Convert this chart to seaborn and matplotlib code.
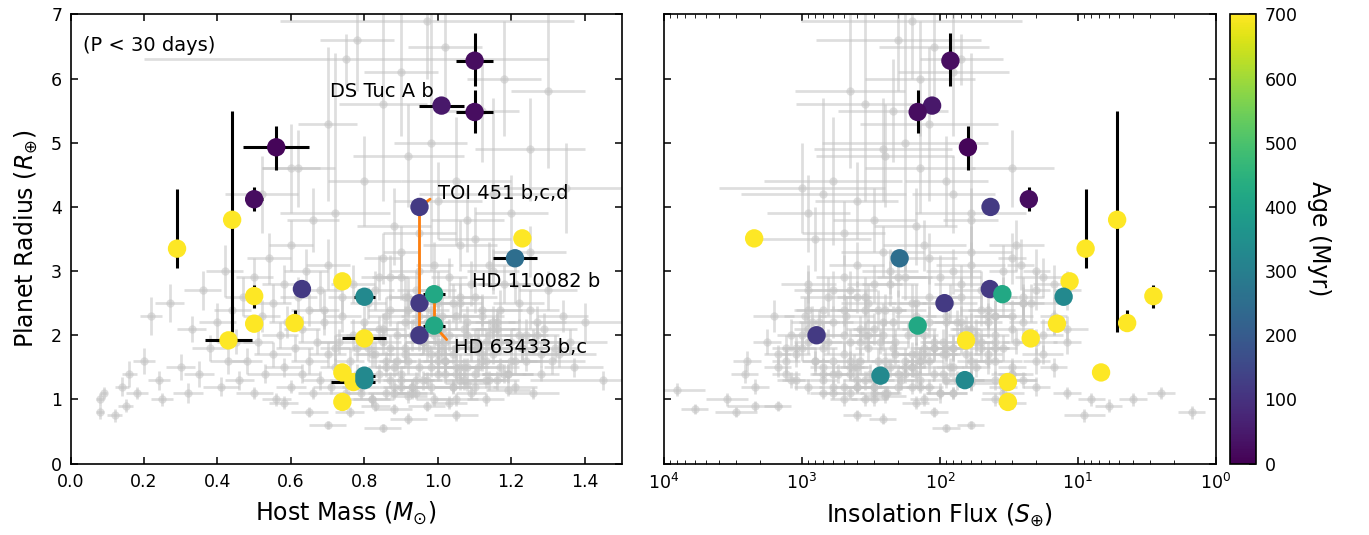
#%% IMPORTS
import numpy as np
import pandas as pd
import matplotlib
matplotlib.use("Agg")
from matplotlib import pyplot as plt
import seaborn as sns

#%% DATA
# young planets (P < 30 d), colour = age
planet_mass = [0.29, 0.44, 0.43, 0.50, 0.56, 0.50, 0.50, 0.61, 0.63, 0.74,
               0.80, 0.80, 0.74, 0.77, 0.80, 0.80, 0.74, 0.95, 0.95, 0.95,
               0.99, 0.99, 1.01, 1.10, 1.10, 1.21, 1.23]
planet_mass_err = [0, 0, 0.065, 0.025, 0.09, 0, 0, 0, 0, 0,
                   0.028, 0.06, 0, 0.06, 0.03, 0, 0, 0, 0, 0,
                   0.03, 0.03, 0.06, 0.05, 0.05, 0.06, 0]
planet_radius = [3.35, 3.80, 1.92, 4.12, 4.93, 2.61, 2.18, 2.19, 2.72, 2.84,
                 2.60, 1.95, 1.42, 1.27, 1.37, 1.30, 0.96, 4.00, 2.50, 2.00,
                 2.64, 2.15, 5.58, 6.28, 5.48, 3.20, 3.51]
planet_radius_lo = [0.30, 1.75, 0, 0.19, 0.35, 0.18, 0, 0.03, 0, 0,
                    0, 0, 0, 0, 0, 0, 0, 0, 0, 0,
                    0, 0, 0.12, 0.39, 0.32, 0, 0]
planet_radius_hi = [0.93, 1.70, 0, 0.19, 0.33, 0.18, 0, 0.20, 0, 0,
                    0, 0, 0, 0, 0, 0, 0, 0, 0, 0,
                    0, 0, 0.12, 0.43, 0.34, 0, 0]
planet_flux = [8.8, 5.2, 64.7, 22.7, 62.7, 2.84, 14.2, 4.4, 43.5, 11.5,
               12.7, 22.0, 6.8, 32.2, 270, 66, 32.2, 43, 92.7, 784,
               35.3, 145, 114, 84, 145, 196, 2220]
planet_age = [700, 700, 700, 22, 10, 700, 700, 700, 120, 700,
              330, 700, 700, 700, 330, 330, 700, 120, 120, 120,
              420, 420, 45, 23, 23, 250, 700]
planet_system = ['', '', '', 'AU Mic', 'K2-33', '', '', '', '', '',
                 '', '', '', '', '', '', '', 'TOI 451', 'TOI 451', 'TOI 451',
                 'HD 63433', 'HD 63433', 'DS Tuc A', 'V1298 Tau', 'V1298 Tau', 'HD 110082', '']

# field planets (grey)
bg_mass = [
    # M dwarf hosts
    0.08, 0.08, 0.09, 0.12, 0.14, 0.15, 0.16, 0.18, 0.20, 0.22,
    0.24, 0.25, 0.27, 0.30, 0.32, 0.33, 0.35, 0.36, 0.38, 0.40,
    0.41, 0.42, 0.43, 0.44, 0.45,
    # K dwarf hosts
    0.46, 0.47, 0.48, 0.50, 0.50, 0.51, 0.52, 0.53, 0.54, 0.55,
    0.55, 0.56, 0.57, 0.58, 0.58, 0.59, 0.60, 0.60, 0.61, 0.62,
    0.63, 0.63, 0.64, 0.65, 0.65, 0.66, 0.67, 0.68, 0.68, 0.69,
    0.70, 0.70, 0.52, 0.60, 0.66,
    # FGK hosts
    0.72, 0.74, 0.75, 0.77, 0.78, 0.80, 0.81, 0.82, 0.84, 0.85,
    0.86, 0.87, 0.88, 0.89, 0.90, 0.90, 0.91, 0.92, 0.93, 0.94,
    0.95, 0.95, 0.96, 0.97, 0.98, 0.98, 0.99, 1.00, 1.00, 1.01,
    1.02, 1.03, 1.04, 1.05, 1.05, 1.06, 1.07, 1.08, 1.09, 1.10,
    1.10, 1.11, 1.12, 1.13, 1.14, 1.15, 1.16, 1.17, 1.18, 1.20,
    1.21, 1.22, 1.24, 1.25, 1.27, 1.28, 1.30, 1.32, 1.34, 1.37,
    0.76, 0.79, 0.83, 0.88, 0.92, 0.97, 1.03, 1.08, 1.13, 1.19,
    0.73, 0.78, 0.83, 0.87, 0.91, 0.94, 0.99, 1.04, 1.12, 1.26,
    0.80, 0.86, 0.93, 1.00, 1.06, 1.15, 1.23, 1.40, 1.45, 0.71,
    # large planets
    0.62, 0.70, 0.72, 0.78, 0.80, 0.85, 0.88, 0.90, 0.92, 0.95,
    0.98, 1.00, 1.02, 1.05, 1.08, 1.12, 1.15, 1.18, 1.20, 1.25,
    1.30, 1.35, 0.75, 0.97, 1.10,
    # dense core
    0.78, 0.82, 0.85, 0.88, 0.91, 0.93, 0.96, 0.99, 1.02, 1.05,
    1.08, 1.11, 1.14, 1.17, 1.21, 1.24, 1.28, 0.80, 0.84, 0.87,
    0.90, 0.92, 0.95, 0.98, 1.01, 1.04, 1.07, 1.10, 1.13, 1.16,
    1.19, 1.23, 1.27, 1.31, 0.76, 0.83, 0.89, 0.94, 0.97, 1.00,
    1.03, 1.06, 1.09, 1.12, 1.15, 1.18, 1.22, 0.79, 0.86, 0.91,
    0.96, 1.01, 1.05, 1.09, 1.14, 1.20, 1.26, 0.81, 0.88, 0.93,
    0.98, 1.02, 1.06, 1.11, 1.16, 0.74, 0.85, 0.90, 0.95, 1.00,
    1.04, 1.08, 1.12, 1.17, 1.25, 1.33, 0.82, 0.87, 0.92, 0.97,
    1.02, 1.07, 1.13, 1.19, 0.86, 0.94, 1.00, 1.06, 1.10, 1.29,
    0.69, 0.72, 0.77, 0.84, 0.90, 0.99, 1.05, 1.15, 1.21, 1.36,
    # small planets
    0.65, 0.85, 0.58, 0.92, 0.70, 1.05,
]
bg_mass_err = [
    0.01, 0.01, 0.01, 0.02, 0.02, 0.02, 0.02, 0.03, 0.03, 0.03,
    0.03, 0.03, 0.04, 0.04, 0.04, 0.04, 0.04, 0.05, 0.05, 0.05,
    0.05, 0.05, 0.05, 0.05, 0.05,
    0.04, 0.05, 0.04, 0.05, 0.05, 0.04, 0.05, 0.05, 0.06, 0.05,
    0.05, 0.04, 0.05, 0.06, 0.05, 0.05, 0.04, 0.06, 0.05, 0.05,
    0.05, 0.05, 0.06, 0.05, 0.05, 0.04, 0.05, 0.06, 0.05, 0.05,
    0.05, 0.06, 0.10, 0.08, 0.07,
    0.04, 0.05, 0.05, 0.06, 0.05, 0.04, 0.05, 0.06, 0.05, 0.05,
    0.05, 0.06, 0.04, 0.05, 0.05, 0.05, 0.06, 0.05, 0.04, 0.05,
    0.05, 0.08, 0.05, 0.04, 0.05, 0.06, 0.05, 0.05, 0.04, 0.05,
    0.06, 0.05, 0.05, 0.06, 0.05, 0.10, 0.05, 0.05, 0.04, 0.06,
    0.05, 0.05, 0.06, 0.05, 0.08, 0.05, 0.06, 0.05, 0.07, 0.06,
    0.06, 0.07, 0.06, 0.10, 0.06, 0.05, 0.08, 0.06, 0.07, 0.08,
    0.04, 0.05, 0.04, 0.05, 0.05, 0.05, 0.05, 0.06, 0.05, 0.06,
    0.05, 0.05, 0.05, 0.04, 0.06, 0.05, 0.05, 0.05, 0.06, 0.07,
    0.05, 0.05, 0.05, 0.05, 0.06, 0.06, 0.07, 0.15, 0.20, 0.05,
    0.10, 0.08, 0.15, 0.10, 0.10, 0.12, 0.10, 0.10, 0.15, 0.10,
    0.10, 0.12, 0.10, 0.15, 0.10, 0.10, 0.20, 0.10, 0.10, 0.15,
    0.10, 0.20, 0.55, 0.40, 0.10,
    0.05, 0.05, 0.06, 0.05, 0.05, 0.04, 0.05, 0.06, 0.05, 0.05,
    0.06, 0.05, 0.05, 0.06, 0.07, 0.06, 0.08, 0.04, 0.05, 0.05,
    0.05, 0.06, 0.05, 0.05, 0.04, 0.06, 0.05, 0.05, 0.06, 0.06,
    0.07, 0.06, 0.08, 0.09, 0.04, 0.05, 0.05, 0.05, 0.06, 0.05,
    0.05, 0.05, 0.06, 0.05, 0.06, 0.06, 0.07, 0.04, 0.05, 0.05,
    0.05, 0.05, 0.06, 0.05, 0.06, 0.07, 0.08, 0.04, 0.05, 0.05,
    0.05, 0.05, 0.06, 0.06, 0.06, 0.04, 0.05, 0.05, 0.05, 0.05,
    0.05, 0.06, 0.06, 0.06, 0.08, 0.10, 0.05, 0.05, 0.05, 0.05,
    0.06, 0.06, 0.06, 0.07, 0.05, 0.05, 0.05, 0.06, 0.06, 0.09,
    0.04, 0.04, 0.05, 0.05, 0.05, 0.05, 0.06, 0.07, 0.08, 0.10,
    0.05, 0.05, 0.04, 0.05, 0.05, 0.06,
]
bg_radius = [
    1.00, 0.80, 1.10, 0.75, 1.20, 0.90, 1.40, 1.10, 1.60, 2.30,
    1.30, 1.00, 2.50, 1.50, 1.10, 2.10, 1.40, 2.70, 1.80, 2.20,
    1.20, 3.00, 1.60, 2.40, 1.90,
    1.30, 2.60, 1.60, 1.10, 2.90, 1.90, 2.30, 1.40, 3.20, 1.70,
    2.50, 1.00, 2.00, 2.80, 1.50, 2.20, 1.20, 3.40, 1.80, 2.60,
    1.40, 2.10, 3.00, 1.60, 2.40, 1.10, 1.90, 2.70, 1.30, 2.20,
    1.70, 3.10, 4.20, 4.60, 3.80,
    1.50, 2.30, 1.10, 2.80, 1.80, 1.30, 2.50, 1.00, 2.10, 3.20,
    1.60, 2.40, 1.20, 2.00, 2.90, 1.40, 1.80, 2.60, 1.10, 2.20,
    1.50, 3.00, 1.90, 1.30, 2.40, 1.70, 1.00, 2.70, 1.40, 2.10,
    1.60, 2.90, 1.20, 2.30, 1.80, 3.40, 1.50, 2.00, 1.10, 2.60,
    1.40, 1.90, 2.40, 1.30, 3.10, 1.70, 2.20, 1.50, 2.80, 1.90,
    1.20, 2.50, 1.60, 3.30, 2.00, 1.40, 2.70, 1.80, 2.30, 1.50,
    0.80, 1.20, 0.90, 0.85, 1.05, 0.90, 0.95, 1.25, 1.00, 1.15,
    1.90, 1.40, 1.70, 1.30, 2.20, 2.70, 2.00, 1.70, 1.60, 1.10,
    2.00, 1.50, 1.20, 1.90, 2.50, 2.10, 1.80, 2.20, 1.30, 1.20,
    4.60, 5.30, 3.90, 6.60, 4.40, 5.60, 3.70, 6.10, 4.80, 3.60,
    5.00, 4.10, 6.50, 4.40, 3.80, 5.50, 4.20, 6.00, 3.90, 4.90,
    5.80, 4.30, 6.30, 6.90, 3.50,
    1.30, 1.70, 2.10, 1.50, 2.60, 1.20, 1.90, 2.30, 1.60, 1.40,
    2.20, 1.80, 1.30, 2.40, 1.60, 2.00, 1.70, 2.20, 1.40, 1.80,
    1.20, 2.40, 2.00, 1.50, 1.80, 2.50, 1.30, 1.90, 1.60, 2.10,
    1.40, 1.80, 2.20, 1.60, 1.60, 2.70, 1.60, 1.10, 2.20, 1.60,
    2.00, 1.30, 2.80, 1.70, 2.20, 1.40, 2.00, 1.10, 2.30, 1.70,
    1.30, 2.30, 1.50, 1.80, 2.00, 1.60, 1.90, 1.80, 1.10, 2.00,
    1.20, 1.90, 2.60, 1.50, 1.30, 2.60, 1.90, 1.30, 2.30, 1.70,
    1.20, 1.50, 2.30, 1.90, 2.40, 1.70, 1.00, 2.90, 1.60, 1.80,
    1.40, 2.10, 1.90, 1.40, 1.10, 1.30, 2.50, 1.50, 1.20, 2.10,
    2.40, 1.80, 2.00, 2.90, 3.30, 3.10, 1.00, 3.00, 2.80, 1.90,
    0.80, 0.55, 0.95, 0.70, 0.60, 0.75,
]
bg_radius_err = [
    0.10, 0.10, 0.10, 0.10, 0.15, 0.10, 0.20, 0.10, 0.20, 0.30,
    0.15, 0.10, 0.30, 0.20, 0.15, 0.20, 0.20, 0.30, 0.20, 0.30,
    0.15, 0.40, 0.20, 0.30, 0.20,
    0.15, 0.30, 0.20, 0.10, 0.30, 0.20, 0.25, 0.15, 0.40, 0.20,
    0.30, 0.10, 0.20, 0.30, 0.15, 0.25, 0.10, 0.40, 0.20, 0.30,
    0.15, 0.20, 0.35, 0.20, 0.25, 0.10, 0.20, 0.30, 0.15, 0.20,
    0.20, 0.40, 0.60, 0.70, 0.50,
    0.15, 0.25, 0.10, 0.30, 0.20, 0.12, 0.25, 0.10, 0.20, 0.40,
    0.15, 0.25, 0.10, 0.20, 0.35, 0.12, 0.20, 0.30, 0.10, 0.20,
    0.15, 0.35, 0.20, 0.12, 0.25, 0.15, 0.10, 0.30, 0.12, 0.20,
    0.15, 0.30, 0.10, 0.20, 0.20, 0.40, 0.15, 0.20, 0.10, 0.25,
    0.12, 0.20, 0.25, 0.12, 0.35, 0.15, 0.20, 0.15, 0.30, 0.20,
    0.10, 0.30, 0.15, 0.40, 0.20, 0.12, 0.30, 0.20, 0.25, 0.15,
    0.08, 0.10, 0.08, 0.08, 0.10, 0.08, 0.10, 0.12, 0.10, 0.10,
    0.20, 0.15, 0.20, 0.12, 0.25, 0.30, 0.20, 0.15, 0.15, 0.10,
    0.20, 0.15, 0.10, 0.20, 0.30, 0.20, 0.20, 0.30, 0.15, 0.12,
    0.60, 1.20, 2.50, 0.80, 0.70, 1.50, 0.60, 1.00, 0.80, 0.50,
    2.00, 0.60, 0.90, 1.00, 0.50, 0.80, 1.50, 0.90, 0.60, 0.80,
    1.20, 0.70, 0.40, 0.90, 0.50,
    0.15, 0.20, 0.25, 0.15, 0.30, 0.12, 0.20, 0.25, 0.20, 0.15,
    0.25, 0.20, 0.15, 0.30, 0.20, 0.25, 0.20, 0.25, 0.15, 0.20,
    0.12, 0.30, 0.25, 0.15, 0.20, 0.30, 0.15, 0.20, 0.20, 0.25,
    0.15, 0.20, 0.25, 0.20, 0.20, 0.30, 0.20, 0.10, 0.25, 0.20,
    0.25, 0.15, 0.35, 0.20, 0.25, 0.15, 0.25, 0.10, 0.30, 0.20,
    0.15, 0.30, 0.20, 0.20, 0.25, 0.20, 0.20, 0.20, 0.10, 0.25,
    0.12, 0.20, 0.30, 0.15, 0.15, 0.30, 0.20, 0.15, 0.25, 0.20,
    0.12, 0.15, 0.30, 0.20, 0.30, 0.20, 0.10, 0.35, 0.20, 0.20,
    0.15, 0.25, 0.20, 0.15, 0.10, 0.12, 0.30, 0.20, 0.12, 0.25,
    0.30, 0.20, 0.25, 0.35, 0.40, 0.35, 0.10, 0.35, 0.30, 0.20,
    0.08, 0.06, 0.10, 0.08, 0.06, 0.08,
]
bg_flux = [
    4, 1.5, 2.5, 9, 20, 6, 30, 12, 40, 15,
    60, 8, 25, 80, 100, 30, 150, 20, 50, 90,
    300, 35, 120, 45, 70,
    60, 25, 140, 300, 18, 55, 40, 200, 30, 90,
    22, 500, 70, 15, 160, 45, 400, 28, 110, 35,
    250, 65, 20, 180, 50, 700, 95, 12, 350, 75,
    130, 26, 80, 140, 60,
    400, 150, 80, 300, 40, 700, 25, 300, 900, 120,
    60, 900, 200, 130, 500, 30, 1100, 70, 450, 15,
    180, 80, 650, 90, 250, 1500, 40, 600, 110, 380,
    800, 200, 600, 45, 330, 130, 55, 170, 35, 400,
    1300, 20, 500, 270, 60, 95, 750, 230, 900, 40,
    140, 330, 2500, 260, 1000, 450, 50, 80, 1600, 700,
    3000, 400, 2200, 6000, 250, 1500, 150, 60, 3500, 8000,
    28, 600, 150, 1200, 220, 900, 350, 18, 450, 100,
    700, 85, 300, 450, 160, 12, 1300, 260, 40, 900,
    30, 120, 60, 200, 90, 350, 150, 80, 250, 500,
    180, 400, 110, 600, 300, 220, 700, 140, 900, 260,
    450, 1000, 70, 160, 800,
    60, 500, 150, 30, 350, 120, 900, 40, 250, 700,
    600, 90, 300, 200, 45, 1200, 160, 25, 550, 80,
    35, 700, 260, 1500, 110, 150, 400, 50, 800, 300,
    180, 1000, 70, 380, 20, 450, 600, 250, 120, 140,
    40, 1100, 230, 65, 850, 95, 330, 600, 480, 210,
    140, 90, 450, 700, 55, 280, 1800, 130, 80, 500,
    2200, 270, 120, 15, 75, 650, 380, 190, 30, 1100,
    500, 160, 950, 110, 280, 45, 130, 180, 1300, 35,
    320, 60, 210, 2600, 240, 25, 85, 420, 160, 150,
    350, 220, 18, 100, 60, 400, 350, 230, 70, 12,
    110, 90, 30, 260, 60, 400,
]
# flux uncertainty in dex
bg_flux_dex = [
    0.10, 0.10, 0.10, 0.15, 0.10, 0.10, 0.15, 0.10, 0.20, 0.10,
    0.15, 0.10, 0.10, 0.20, 0.10, 0.15, 0.10, 0.10, 0.20, 0.10,
    0.15, 0.10, 0.10, 0.20, 0.10,
    0.10, 0.15, 0.10, 0.10, 0.20, 0.10, 0.10, 0.15, 0.10, 0.10,
    0.20, 0.10, 0.10, 0.15, 0.10, 0.10, 0.10, 0.20, 0.10, 0.10,
    0.15, 0.10, 0.10, 0.20, 0.10, 0.10, 0.15, 0.10, 0.10, 0.10,
    0.20, 0.10, 0.30, 0.40, 0.20,
    0.10, 0.15, 0.10, 0.20, 0.10, 0.10, 0.15, 0.10, 0.10, 0.20,
    0.10, 0.10, 0.15, 0.10, 0.20, 0.10, 0.10, 0.15, 0.10, 0.10,
    0.15, 0.20, 0.10, 0.10, 0.15, 0.10, 0.10, 0.20, 0.10, 0.10,
    0.10, 0.20, 0.10, 0.15, 0.10, 0.30, 0.10, 0.10, 0.15, 0.10,
    0.10, 0.15, 0.10, 0.10, 0.25, 0.10, 0.15, 0.10, 0.20, 0.10,
    0.10, 0.20, 0.10, 0.30, 0.10, 0.10, 0.20, 0.10, 0.15, 0.10,
    0.15, 0.10, 0.20, 0.10, 0.15, 0.10, 0.10, 0.20, 0.15, 0.20,
    0.10, 0.15, 0.10, 0.10, 0.20, 0.10, 0.10, 0.15, 0.10, 0.10,
    0.15, 0.10, 0.10, 0.20, 0.10, 0.15, 0.10, 0.30, 0.30, 0.10,
    0.30, 0.50, 0.40, 0.60, 0.30, 0.50, 0.30, 0.40, 0.50, 0.30,
    0.60, 0.30, 0.40, 0.50, 0.30, 0.40, 0.60, 0.40, 0.30, 0.50,
    0.40, 0.60, 0.30, 0.80, 0.40,
    0.10, 0.15, 0.10, 0.10, 0.20, 0.10, 0.10, 0.15, 0.10, 0.10,
    0.15, 0.10, 0.10, 0.20, 0.10, 0.10, 0.15, 0.10, 0.10, 0.10,
    0.10, 0.20, 0.10, 0.10, 0.15, 0.20, 0.10, 0.10, 0.10, 0.15,
    0.10, 0.10, 0.20, 0.10, 0.10, 0.20, 0.10, 0.10, 0.15, 0.10,
    0.10, 0.10, 0.20, 0.10, 0.15, 0.10, 0.10, 0.10, 0.20, 0.10,
    0.10, 0.15, 0.10, 0.10, 0.10, 0.15, 0.10, 0.10, 0.10, 0.15,
    0.10, 0.10, 0.20, 0.10, 0.10, 0.20, 0.10, 0.10, 0.15, 0.10,
    0.10, 0.10, 0.15, 0.10, 0.20, 0.10, 0.10, 0.20, 0.10, 0.10,
    0.10, 0.15, 0.10, 0.10, 0.10, 0.10, 0.20, 0.10, 0.10, 0.15,
    0.20, 0.10, 0.15, 0.30, 0.30, 0.20, 0.10, 0.20, 0.20, 0.10,
    0.10, 0.10, 0.10, 0.10, 0.10, 0.10,
]

# labels on the mass panel: (text, system, text x, text y, alignment, orange pointer)
labels = [
    ('DS Tuc A b', 'DS Tuc A', 0.99, 5.80, 'right', False),
    ('TOI 451 b,c,d', 'TOI 451', 1.0, 4.21, 'left', True),
    ('HD 110082 b', 'HD 110082', 1.092, 2.84, 'left', False),
    ('HD 63433 b,c', 'HD 63433', 1.043, 1.81, 'left', True),
]

#%% CONFIGURATION
AGE_MIN, AGE_MAX = 0, 700
ORANGE = '#ff7f0e'
GREY = '#c4c4c4'

#%% MAIN
def main():
    young = pd.DataFrame({'mass': planet_mass, 'mass_err': planet_mass_err,
                          'radius': planet_radius, 'r_lo': planet_radius_lo,
                          'r_hi': planet_radius_hi, 'flux': planet_flux,
                          'age': planet_age, 'system': planet_system})
    field = pd.DataFrame({'mass': bg_mass, 'mass_err': bg_mass_err,
                          'radius': bg_radius, 'r_err': bg_radius_err,
                          'flux': bg_flux, 'f_dex': bg_flux_dex})

    sns.set_style('ticks')
    plt.rcParams.update({
        'font.family': ['DejaVu Sans'],
        'text.color': 'black', 'axes.labelcolor': 'black',
        'xtick.color': 'black', 'ytick.color': 'black',
        'xtick.direction': 'in', 'ytick.direction': 'in',
        'xtick.top': True, 'ytick.right': True,
        'xtick.major.size': 5, 'ytick.major.size': 5,
        'xtick.minor.size': 3, 'ytick.minor.size': 3,
        'xtick.major.width': 1.1, 'ytick.major.width': 1.1,
        'axes.linewidth': 1.2, 'axes.edgecolor': 'black',
        'xtick.labelsize': 12.5, 'ytick.labelsize': 12.5,
        'xtick.major.pad': 7, 'ytick.major.pad': 6,
    })

    fig = plt.figure(figsize=(13.69, 5.35), dpi=100)
    ax1 = fig.add_axes([0.0515, 0.1336, 0.4025, 0.8393])
    ax2 = fig.add_axes([0.4850, 0.1336, 0.4032, 0.8393], sharey=ax1)
    cax = fig.add_axes([0.8985, 0.1336, 0.0190, 0.8393])

    # field population
    grey_kw = dict(fmt='o', ms=6, color=GREY, ecolor=GREY, elinewidth=2.0, mew=0,
                   alpha=0.55, zorder=1)
    ax1.errorbar(field['mass'], field['radius'], xerr=field['mass_err'],
                 yerr=field['r_err'], **grey_kw)
    f_lo = field['flux'] * (1 - 10 ** (-field['f_dex']))
    f_hi = field['flux'] * (10 ** field['f_dex'] - 1)
    ax2.errorbar(field['flux'], field['radius'], xerr=[f_lo, f_hi],
                 yerr=field['r_err'], **grey_kw)

    # multi-planet systems joined in mass panel
    for name in ['TOI 451', 'HD 63433']:
        sys_df = young[young['system'] == name].sort_values('radius')
        ax1.plot(sys_df['mass'], sys_df['radius'], color=ORANGE, lw=2, zorder=2)

    # young planets error bars
    ax1.errorbar(young['mass'], young['radius'], xerr=young['mass_err'],
                 yerr=[young['r_lo'], young['r_hi']], fmt='none', ecolor='black',
                 elinewidth=2.2, capsize=0, zorder=3)
    ax2.errorbar(young['flux'], young['radius'],
                 yerr=[young['r_lo'], young['r_hi']], fmt='none', ecolor='black',
                 elinewidth=2.2, capsize=0, zorder=3)

    for ax, xcol in [(ax1, 'mass'), (ax2, 'flux')]:
        sns.scatterplot(data=young, x=xcol, y='radius', hue='age', palette='viridis',
                        hue_norm=(AGE_MIN, AGE_MAX), s=175, linewidth=0,
                        legend=False, ax=ax, zorder=4)

    # labels
    for text, name, tx, ty, ha, pointer in labels:
        sys_df = young[young['system'] == name]
        if pointer:
            if name == 'TOI 451':
                anchor = sys_df.loc[sys_df['radius'].idxmax()]
            else:
                anchor = sys_df.loc[sys_df['radius'].idxmin()]
            ax1.annotate(text, xy=(anchor['mass'], anchor['radius']), xytext=(tx, ty),
                         ha=ha, va='center', fontsize=14,
                         arrowprops=dict(arrowstyle='-', color=ORANGE, lw=2,
                                         relpos=(0, 0.5), shrinkA=4, shrinkB=0),
                         zorder=2)
        else:
            ax1.text(tx, ty, text, ha=ha, va='center', fontsize=14, zorder=5)
    ax1.text(0.022, 0.932, '(P < 30 days)', transform=ax1.transAxes,
             ha='left', va='center', fontsize=14)

    # axes formatting
    ax1.set_xlim(0, 1.5)
    ax1.set_ylim(0, 7)
    ax1.set_xticks(np.arange(0, 1.41, 0.2))
    ax1.set_yticks(range(0, 8))
    ax1.set_xlabel(r'Host Mass ($M_{\odot}$)', fontsize=17, labelpad=6)
    ax1.set_ylabel(r'Planet Radius ($R_{\oplus}$)', fontsize=17, labelpad=8)

    ax2.set_xscale('log')
    ax2.set_xlim(1e4, 1)
    ax2.set_xlabel(r'Insolation Flux ($S_{\oplus}$)', fontsize=17, labelpad=6)
    ax2.set_ylabel('')
    ax2.tick_params(axis='y', labelleft=False)
    ax2.tick_params(axis='x', which='both', top=True, bottom=True)

    # colour bar
    sm = plt.cm.ScalarMappable(cmap='viridis', norm=plt.Normalize(AGE_MIN, AGE_MAX))
    cbar = fig.colorbar(sm, cax=cax)
    cbar.set_ticks(range(0, 701, 100))
    cbar.ax.tick_params(direction='in', length=5, labelsize=12.5, right=True)
    cbar.set_label('Age (Myr)', rotation=270, fontsize=17, labelpad=24)

    fig.savefig('out.png', dpi=100)


if __name__ == "__main__":
    main()
